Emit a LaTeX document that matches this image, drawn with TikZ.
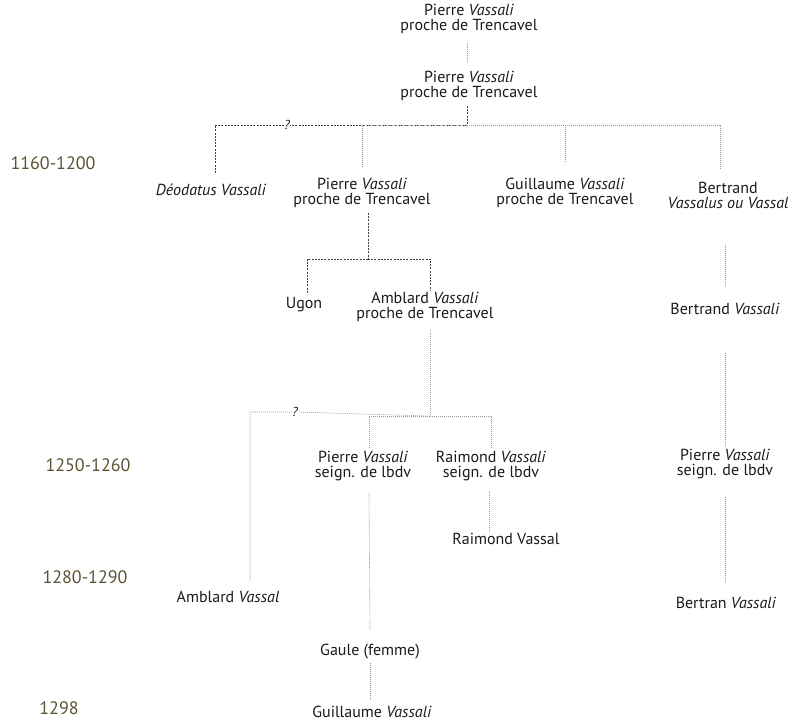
\documentclass[tikz,border=0pt]{standalone}
\usepackage{fontspec}
\setmainfont{PT Sans}
\definecolor{yearcol}{HTML}{5A5434}
\definecolor{txt}{HTML}{1A1A1A}
\begin{document}
\begin{tikzpicture}[x=1pt,y=-1pt,
  person/.style={inner sep=0pt,align=center,text=txt,font=\fontsize{16}{15}\selectfont},
  year/.style={inner sep=0pt,text=yearcol,font=\fontsize{18}{20}\selectfont},
  qmark/.style={inner sep=0pt,text=txt,font=\fontsize{13}{13}\selectfont\itshape},
  lightlink/.style={draw=black!40,line width=0.6pt,dash pattern=on 1pt off 1pt},
  darklink/.style={draw=black!75,line width=0.5pt,dash pattern=on 2pt off 1.2pt}]
\useasboundingbox (0,0) rectangle (790,722);
% years
\node[year] (y1) at (53,163) {1160-1200};
\node[year] (y2) at (88,465) {1250-1260};
\node[year] (y3) at (85,577) {1280-1290};
\node[year] (y4) at (59,708) {1298};
% persons
\node[person] (top1) at (469,19) {Pierre \textit{Vassali}\\proche de Trencavel};
\node[person] (top2) at (469,86) {Pierre \textit{Vassali}\\proche de Trencavel};
\node[person] (deo) at (211,190) {\textit{Déodatus Vassali}};
\node[person] (p2) at (362,193) {Pierre \textit{Vassali}\\proche de Trencavel};
\node[person] (gui) at (565,193) {Guillaume \textit{Vassali}\\proche de Trencavel};
\node[person] (ber) at (728,195) {Bertrand\\\textit{Vassalus ou Vassal}};
\node[person] (ugon) at (304,305) {Ugon};
\node[person] (amb) at (425,307) {Amblard \textit{Vassali}\\proche de Trencavel};
\node[person] (amv) at (228,597) {Amblard \textit{Vassal}};
\node[person] (p3) at (363,466) {Pierre \textit{Vassali}\\seign. de lbdv};
\node[person] (rai) at (491,466) {Raimond \textit{Vassali}\\seign. de lbdv};
\node[person] (raiv) at (506,539) {Raimond Vassal};
\node[person] (gaule) at (370,652) {Gaule (femme)};
\node[person] (guil) at (372,712) {Guillaume \textit{Vassali}};
\node[person] (bv) at (725,309) {Bertrand \textit{Vassali}};
\node[person] (p4) at (725,464) {Pierre \textit{Vassali}\\seign. de lbdv};
\node[person] (btv) at (726,603) {Bertran \textit{Vassali}};
\node[qmark] (q1) at (287,125) {?};
\node[qmark] (q2) at (295,412) {?};
% junctions
\coordinate (j1) at (467,125);
\coordinate (j2) at (368,259);
\coordinate (j3) at (430,416);
% connectors
\draw[lightlink] ([xshift=-2pt,yshift=-24pt]top1.center) -- ([xshift=-2pt,yshift=24pt]top2.center);
\draw[darklink] ([xshift=-2pt,yshift=-20pt]top2.center) -- (j1);
\draw[darklink] (j1) -- (q1) -| ([xshift=4pt,yshift=17pt]deo.center);
\draw[lightlink] (j1) -| ([yshift=26pt]p2.center);
\draw[lightlink] (j1) -| ([yshift=30pt]gui.center);
\draw[lightlink] (j1) -| ([xshift=-8pt,yshift=25pt]ber.center);
\draw[darklink] ([xshift=6pt,yshift=-20pt]p2.center) -- (j2);
\draw[darklink] (j2) -| ([xshift=3pt,yshift=12pt]ugon.center);
\draw[darklink] (j2) -| ([xshift=5pt,yshift=16pt]amb.center);
\draw[lightlink] ([xshift=5pt,yshift=-23pt]amb.center) -- (j3);
\draw[lightlink] (j3) -- (q2) -| ([xshift=22pt,yshift=15pt]amv.center);
\draw[lightlink] (j3) -| ([xshift=6pt,yshift=17pt]p3.center);
\draw[lightlink] (j3) -| ([yshift=17pt]rai.center);
\draw[lightlink] ([xshift=-2pt,yshift=-25pt]rai.center) -- ([xshift=-17pt,yshift=7pt]raiv.center);
\draw[lightlink] ([xshift=6pt,yshift=-27pt]p3.center) -- ([yshift=22pt]gaule.center);
\draw[lightlink] ([yshift=-11pt]gaule.center) -- ([xshift=-2pt,yshift=11pt]guil.center);
\draw[lightlink] ([xshift=-3pt,yshift=-50pt]ber.center) -- ([yshift=22pt]bv.center);
\draw[lightlink] ([yshift=-44pt]bv.center) -- ([yshift=18pt]p4.center);
\draw[lightlink] ([yshift=-33pt]p4.center) -- ([xshift=-1pt,yshift=21pt]btv.center);
\end{tikzpicture}
\end{document}
